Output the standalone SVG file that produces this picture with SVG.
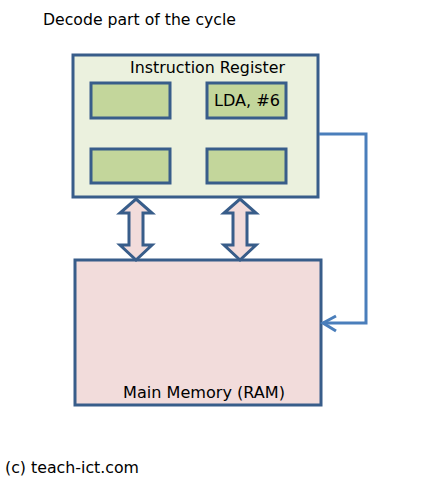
<svg xmlns="http://www.w3.org/2000/svg" width="433" height="483" viewBox="0 0 433 483">
<defs>
<style>
.box{stroke:#385d8a;stroke-width:3}
.ir{fill:#ebf1de}
.cell{fill:#c3d69b}
.mem{fill:#f2dcdb}
.t{font-family:"DejaVu Sans","Liberation Sans",sans-serif;font-size:15px;fill:#000}
.conn{fill:none;stroke:#4a7ebb;stroke-width:3;stroke-linejoin:miter}
.dbl{fill:#f2dcdb;stroke:#385d8a;stroke-width:3;stroke-linejoin:miter}
</style>
</defs>
<rect width="433" height="483" fill="#fff"/>
<text class="t" x="43" y="25" textLength="193" lengthAdjust="spacingAndGlyphs">Decode part of the cycle</text>
<g id="instruction-register">
<rect class="box ir" x="73" y="55" width="245" height="142"/>
<text class="t" x="130" y="73" textLength="155" lengthAdjust="spacingAndGlyphs">Instruction Register</text>
</g>
<g id="cell1"><rect class="box cell" x="91" y="83" width="79" height="35"/></g>
<g id="cell2"><rect class="box cell" x="207" y="83" width="79" height="35"/>
<text class="t" x="214" y="106" textLength="66" lengthAdjust="spacingAndGlyphs">LDA, #6</text></g>
<g id="cell3"><rect class="box cell" x="91" y="149" width="79" height="34"/></g>
<g id="cell4"><rect class="box cell" x="207" y="149" width="79" height="34"/></g>
<g id="main-memory">
<rect class="box mem" x="75" y="260" width="246" height="145"/>
<text class="t" x="123" y="398" textLength="162" lengthAdjust="spacingAndGlyphs">Main Memory (RAM)</text>
</g>
<g id="connectors">
<polygon class="dbl" points="136,199 152,213 143,213 143,245 152,245 136,260 120,245 129,245 129,213 120,213"/>
<polygon class="dbl" points="240,199 256,213 247,213 247,245 256,245 240,260 224,245 233,245 233,213 224,213"/>
<polyline class="conn" points="319,134 366,134 366,323 323,323"/>
<polyline class="conn" points="336,316 323,323 336,331"/>
</g>
<text class="t" x="5" y="473" textLength="134" lengthAdjust="spacingAndGlyphs">(c) teach-ict.com</text>
</svg>
